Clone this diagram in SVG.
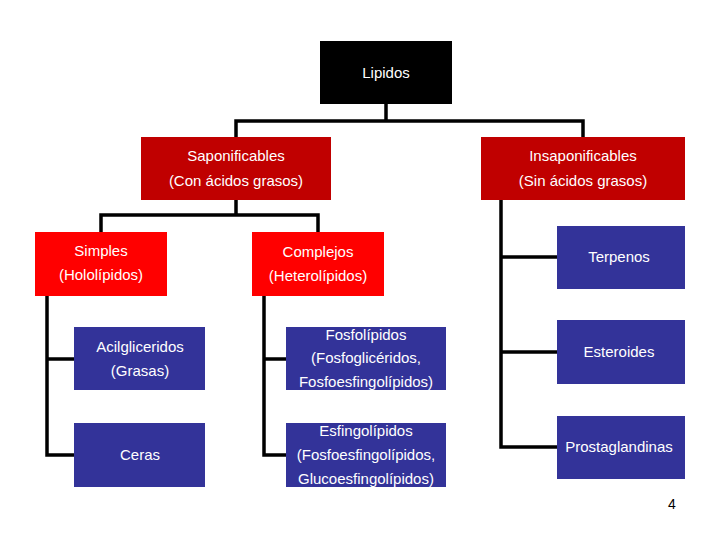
<svg xmlns="http://www.w3.org/2000/svg" width="720" height="540" viewBox="0 0 720 540">
<style>
text{font-family:"Liberation Sans",Arial,sans-serif;font-size:15px;fill:#fff;text-anchor:middle}
.dr{fill:#c00000}.r{fill:#ff0000}.b{fill:#333399}.k{fill:#000}
.c{stroke:#000;stroke-width:3.5;fill:none}
</style>
<rect width="720" height="540" fill="#fff"/>
<g id="connectors" class="c">
<path d="M386,104V121M236,137V121H583V137"/>
<path d="M236,200V215M101,232V215H318V232"/>
<path d="M47,296V455H74M47,359H74"/>
<path d="M264,296V455H286M264,359H286"/>
<path d="M501,200V447H557M501,257H557M501,352H557"/>
</g>
<g id="lipidos"><rect class="k" x="320" y="41" width="132" height="63"/><text x="386" y="78">Lipidos</text></g>
<g id="saponificables"><rect class="dr" x="141" y="137" width="190" height="63"/><text x="236" y="161">Saponificables</text><text x="236" y="186">(Con ácidos grasos)</text></g>
<g id="insaponificables"><rect class="dr" x="481" y="137" width="204" height="63"/><text x="583" y="161">Insaponificables</text><text x="583" y="186">(Sin ácidos grasos)</text></g>
<g id="simples"><rect class="r" x="35" y="232" width="132" height="64"/><text x="101" y="256">Simples</text><text x="101" y="280">(Hololípidos)</text></g>
<g id="complejos"><rect class="r" x="252" y="232" width="132" height="64"/><text x="318" y="257">Complejos</text><text x="318" y="281">(Heterolípidos)</text></g>
<g id="acilgliceridos"><rect class="b" x="74" y="327" width="131" height="63"/><text x="140" y="352">Acilgliceridos</text><text x="140" y="376">(Grasas)</text></g>
<g id="ceras"><rect class="b" x="74" y="423" width="131" height="64"/><text x="140" y="460">Ceras</text></g>
<g id="fosfolipidos"><rect class="b" x="286" y="327" width="160" height="63"/><text x="366" y="340">Fosfolípidos</text><text x="366" y="363">(Fosfoglicéridos,</text><text x="366" y="387">Fosfoesfingolípidos)</text></g>
<g id="esfingolipidos"><rect class="b" x="286" y="423" width="160" height="64"/><text x="366" y="436">Esfingolípidos</text><text x="366" y="460">(Fosfoesfingolípidos,</text><text x="366" y="484">Glucoesfingolípidos)</text></g>
<g id="terpenos"><rect class="b" x="557" y="226" width="128" height="63"/><text x="619" y="262">Terpenos</text></g>
<g id="esteroides"><rect class="b" x="557" y="320" width="128" height="64"/><text x="619" y="357">Esteroides</text></g>
<g id="prostaglandinas"><rect class="b" x="557" y="416" width="128" height="63"/><text x="619" y="452">Prostaglandinas</text></g>
<text x="672" y="509" style="fill:#000;font-size:14px">4</text>
</svg>
